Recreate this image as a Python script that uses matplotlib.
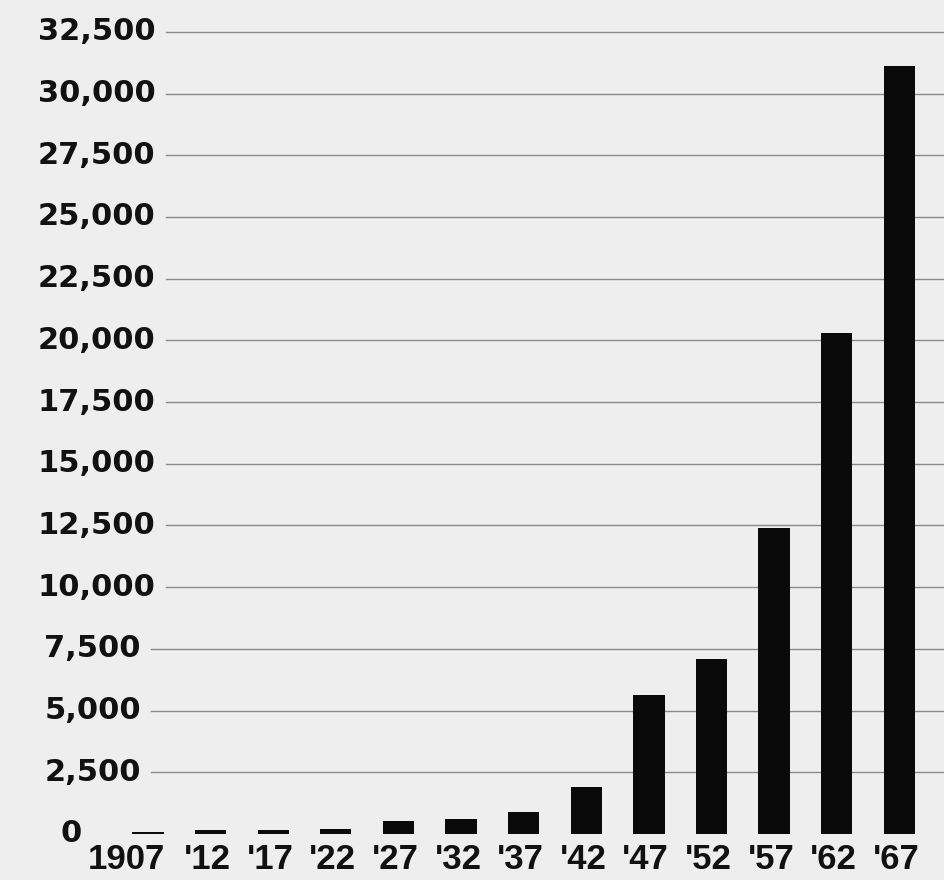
import matplotlib
matplotlib.use('Agg')
import matplotlib.pyplot as plt
import matplotlib.transforms as mtransforms
import numpy as np

# data
years = ['1907', "'12", "'17", "'22", "'27", "'32", "'37", "'42",
         "'47", "'52", "'57", "'62", "'67"]
values = [80, 160, 160, 200, 540, 600, 900, 1900,
          5650, 7100, 12400, 20300, 31100]
ytick_values = list(range(0, 32501, 2500))
ytick_labels = ['{:,}'.format(v) for v in ytick_values]

bg = '#eeeeee'

fig = plt.figure(figsize=(9.45, 8.8), dpi=100)
fig.patch.set_facecolor(bg)
ax = fig.add_axes([0, 0, 1, 1])
ax.set_facecolor(bg)

x = np.arange(len(years))
ax.bar(x, values, width=0.5, color='#0a0a0a', zorder=3)

ax.set_xlim(-2.364, 12.73)
ax.set_ylim(-1864, 33789)

ytrans = mtransforms.blended_transform_factory(ax.transAxes, ax.transData)
for v, lab in zip(ytick_values, ytick_labels):
    lx = 0.064 if v == 0 else (0.040 if len(lab) == 6 else 0.047)
    ax.text(lx, v, lab, transform=ytrans, ha='left', va='center',
            fontsize=22, fontweight='bold', family='DejaVu Sans', color='#111111')
    if v > 0:
        # gridline starts a little after the label ends
        gx = 0.176 if len(lab) == 6 else 0.160
        ax.axhline(v, xmin=gx, xmax=1.0, color='#8a8a8a', lw=1.0, zorder=1)

xtrans = mtransforms.blended_transform_factory(ax.transData, ax.transAxes)
for i, lab in enumerate(years):
    xpos = i - 0.35 if i == 0 else i - 0.05
    ax.text(xpos, 0.012, lab, transform=xtrans, ha='center', va='baseline',
            fontsize=25, fontweight='bold', family='Liberation Sans', color='#111111')

ax.set_xticks([])
ax.set_yticks([])
for s in ax.spines.values():
    s.set_visible(False)

plt.savefig('out.png', dpi=100, facecolor=bg)
